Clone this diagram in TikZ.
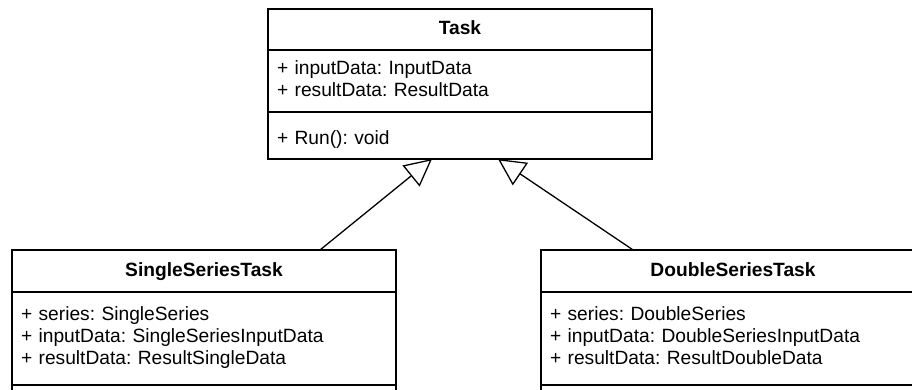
\documentclass[tikz,border=0pt]{standalone}
\usepackage{fontspec}
\setmainfont{Liberation Sans}
\usetikzlibrary{positioning, calc, arrows.meta}
\frenchspacing

\begin{document}
\begin{tikzpicture}[
            x=1pt, y=-1pt,
            >={Triangle[open, length=27pt, width=27pt]},
            node distance=0pt,
            % Styles
            box/.style={rectangle, draw, line width=1.3pt, outer sep=0pt,
              minimum width=384pt, inner sep=0pt},
            title/.style={box, minimum height=41pt, text height=14pt, text depth=4pt,
              font=\fontsize{19.2}{22}\selectfont\bfseries},
            fields/.style={box, align=left, text width=366pt,
              font=\fontsize{19.2}{22}\selectfont},
            inherit/.style={->, line width=1.3pt}
          ]
          \path[use as bounding box, clip] (0,0) rectangle (912,389);
          % 1. Base class
          \node[title] (task) at (460,29.5) {Task};
          \node[fields, minimum height=62pt, below=of task] (taskattr)
            {\strut+ inputData: InputData\\+ resultData: ResultData\strut};
          \node[fields, minimum height=47pt, below=of taskattr] (taskops)
            {\strut\\[-12pt]+ Run(): void\strut};
          % 2. Single series class
          \node[title, minimum height=42pt] (single) at (204,271) {SingleSeriesTask};
          \node[fields, minimum height=93pt, below=of single] (singleattr)
            {\strut+ series: SingleSeries\\+ inputData: SingleSeriesInputData\\+ resultData: ResultSingleData\strut};
          \node[fields, minimum height=40pt, below=of singleattr] (singleops) {};
          % 3. Double series class
          \node[title, minimum height=42pt] (double) at (733,271) {DoubleSeriesTask};
          \node[fields, minimum height=93pt, below=of double] (doubleattr)
            {\strut+ series: DoubleSeries\\+ inputData: DoubleSeriesInputData\\+ resultData: ResultDoubleData\strut};
          \node[fields, minimum height=40pt, below=of doubleattr] (doubleops) {};
          % --- Generalisations ---
          \draw[inherit] ($(single.north west)!0.802!(single.north east)$)
            -- ($(taskops.south west)!0.427!(taskops.south east)$);
          \draw[inherit] ($(double.north west)!0.240!(double.north east)$)
            -- ($(taskops.south west)!0.599!(taskops.south east)$);
        \end{tikzpicture}
\end{document}
